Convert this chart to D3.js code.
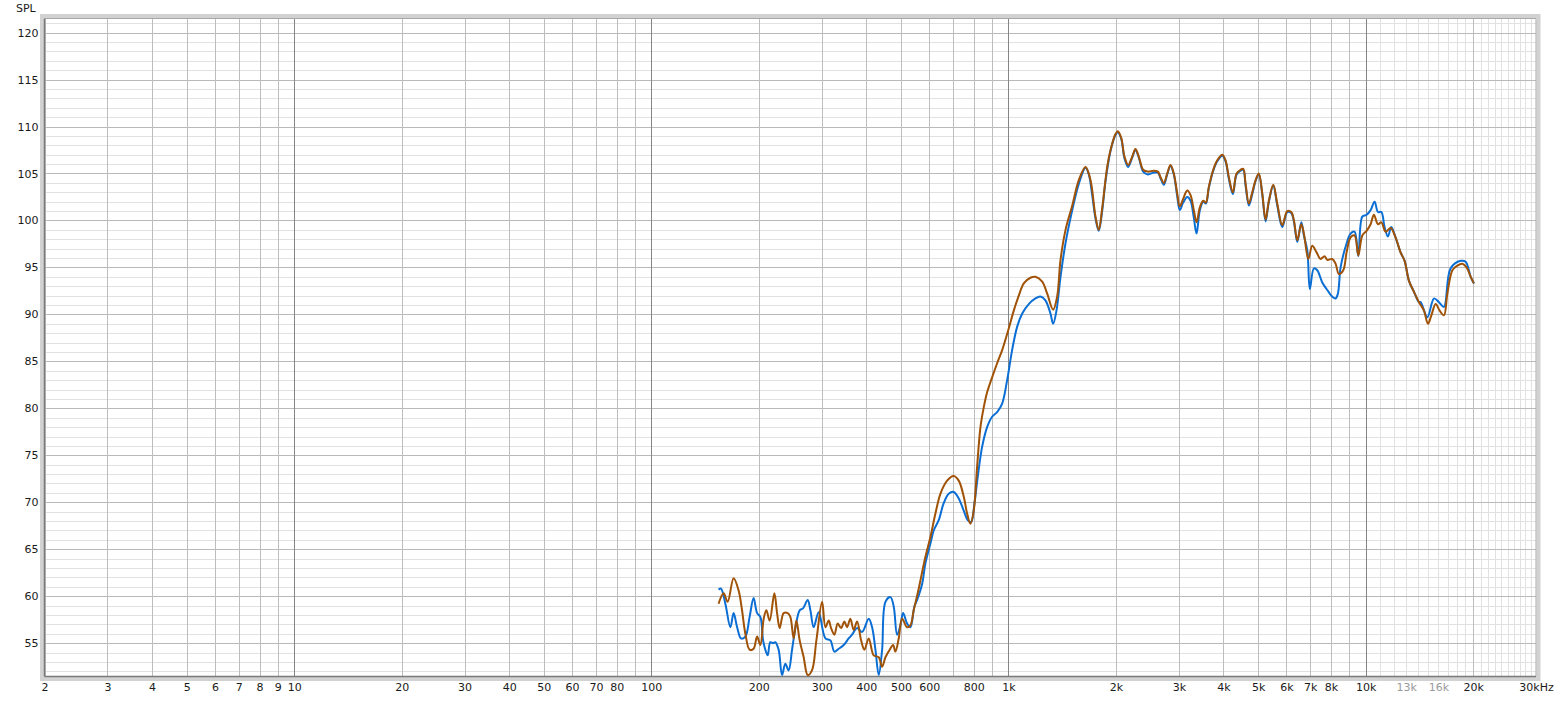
<!DOCTYPE html>
<html>
<head>
<meta charset="utf-8">
<script src="https://cdn.jsdelivr.net/npm/d3@7"></script>
<style>
  html, body { margin: 0; padding: 0; background: #ffffff; }
  svg { display: block; }
  text { font-family: "DejaVu Sans", Verdana, sans-serif; font-size: 11px; fill: #1a1a1a; }
</style>
</head>
<body>
<svg id="chart" width="1558" height="701"></svg>
<script>
// ---------------- data ----------------
const blueFreq = [154.3,156.7,161.2,166.5,170.0,173.9,178.4,183.4,188.5,193.4,197.8,202,205.6,208.6,211.8,215.4,219.2,222.5,227.3,232.3,237.3,242.4,247.8,253.2,260.3,266,274.1,278.9,284.9,294.2,307.3,317.3,325.6,334.7,345.7,357,364.9,376.9,389.3,406.2,415.2,424.2,433.3,442.9,452.5,467.3,477.3,487.8,498.4,507,520.3,531.5,545.4,555,573.2,585.5,604.7,617.8,637.9,658.8,680.4,702.8,725.8,749.6,769.1,786.2,803.2,820.4,843.9,871.6,900.1,929.7,960.3,991.7,1024,1058,1093,1140,1190,1229,1269,1311,1334,1363,1399,1445,1509,1574,1644,1679,1716,1753,1790,1830,1870,1931,1994,2024,2069,2113,2164,2221,2268,2317,2384,2456,2553,2620,2666,2723,2783,2843,2904,2968,3018,3085,3167,3235,3304,3363,3435,3511,3571,3641,3745,3843,3969,4054,4142,4250,4353,4467,4544,4613,4712,4816,4920,5024,5136,5247,5360,5515,5658,5844,6036,6193,6299,6438,6606,6718,6867,6982,7165,7323,7563,7811,8015,8241,8364,8511,8790,9078,9314,9541,9790,10065,10328,10597,10830,11070,11300,11550,11800,12130,12530,12860,13220,13660,14110,14260,14890,15540,16050,16570,17300,18460,19060,19690,20110];
const blueSPL = [60.7,60.8,59.2,56.7,58.2,56.7,55.5,55.7,57.8,59.8,58.2,57.8,55.3,54.3,53.7,55.1,55.0,55.1,54.3,51.6,52.8,52.1,54.3,56.6,58.5,58.7,59.6,58.5,56.7,58.3,55.5,55.3,54.1,54.4,54.8,55.5,55.9,56.6,56.2,57.6,56.7,54.3,51.6,54.3,59.4,59.9,58.9,55.9,56.9,58.2,57.1,56.7,58.9,59.6,61.3,63.5,65.6,67.0,68.1,69.9,70.9,71.1,70.4,69.1,68.1,67.9,69.9,72.7,75.9,78.0,79.1,79.6,80.5,83.0,86.2,88.7,90.1,91.1,91.7,91.9,91.5,90.1,89.0,90.4,94.0,97.6,101.1,103.9,105.6,104.9,102.7,100.2,98.9,101.0,104.2,107.4,109.1,109.4,108.7,106.6,105.7,106.7,107.5,106.7,105.2,104.9,105.1,105.1,104.5,103.8,104.9,105.8,104.9,102.6,101.1,101.9,102.5,102.1,100.3,98.6,101.1,102.0,101.8,103.5,105.3,106.3,106.9,106.3,104.4,102.8,104.9,105.3,105.4,103.7,101.6,102.8,104.2,104.9,102.8,99.9,102.0,103.7,101.6,99.3,100.9,100.8,99.9,97.7,99.8,98.4,96.8,92.7,94.9,94.7,93.4,92.6,92.0,91.7,92.2,95.0,97.2,98.6,98.8,96.2,100.4,100.6,101.1,102.0,100.9,100.9,99.3,98.3,99.3,98.2,96.6,95.7,93.6,92.4,91.3,91.3,89.7,91.7,91.3,90.8,94.9,95.7,95.6,94.0,93.3];

const brownFreq = [154.3,159.4,163.6,170.0,175.6,179.5,183.4,188.5,193.4,197.8,202,206.4,210,214.5,221.1,225,228.8,234.8,240.9,245.1,250.4,254.8,260.3,267.1,274.1,281.8,289.9,300.8,307.3,313.9,318.7,325.6,332.6,340,347.2,353.4,360.9,368.7,376.9,386.8,395.1,406.2,419.5,433.3,442.9,452.5,465.1,475.4,482.5,492.9,503.8,520.3,531.5,542.9,560.7,585.5,604.7,624.5,644.9,673.5,702.8,725.8,749.6,766.1,782.7,799.5,817.2,834.9,852.8,871.6,900.1,929.7,960.3,1002,1035,1069,1104,1152,1190,1243,1284,1334,1369,1399,1445,1509,1574,1644,1697,1753,1790,1830,1890,1931,1994,2024,2069,2113,2164,2221,2268,2317,2384,2456,2553,2620,2666,2723,2783,2843,2904,2968,3018,3085,3167,3235,3304,3363,3435,3511,3571,3641,3745,3843,3969,4054,4142,4250,4353,4467,4544,4613,4712,4816,4920,5024,5136,5247,5360,5515,5658,5844,6036,6193,6299,6438,6606,6718,6911,7091,7290,7480,7677,7811,8067,8241,8418,8660,8847,9078,9314,9541,9790,10065,10328,10550,10830,11070,11380,11750,12130,12530,12860,13220,13660,14110,14570,14950,15280,15710,16120,16570,16940,17500,18070,18660,19180,19690,20110];
const brownSPL = [59.2,60.3,59.4,61.9,60.6,58.5,56.0,54.3,54.4,55.7,54.8,57.6,58.5,57.4,60.3,58.2,56.6,58.2,58.2,57.8,55.5,57.4,55.3,53.5,51.6,52.1,55.3,59.4,56.7,57.4,56.6,55.9,57.1,56.6,57.3,56.7,57.6,56.4,57.3,55.3,54.3,55.5,53.7,53.5,52.5,53.5,54.3,54.8,54.1,55.5,57.6,56.7,56.9,58.5,60.8,64.2,66.3,68.8,70.9,72.3,72.8,72.3,70.6,68.8,67.7,69.1,73.8,78.0,80.1,81.7,83.3,84.8,86.2,88.5,90.4,92.0,93.3,93.9,94.0,93.5,92.2,90.5,91.9,95.8,99.0,101.6,104.3,105.7,104.3,100.4,99.0,101.3,105.7,107.5,109.2,109.5,108.8,106.8,105.9,106.8,107.6,106.8,105.4,105.2,105.3,105.2,104.6,104.0,105.0,105.9,105.0,102.9,101.5,102.3,103.2,102.7,101.1,99.8,101.4,102.1,101.9,103.6,105.4,106.4,107.0,106.4,104.6,103.0,105.0,105.4,105.5,103.9,101.8,103.0,104.3,105.0,102.9,100.1,102.1,103.8,101.8,99.5,101.0,100.9,100.0,97.9,99.6,98.6,95.9,97.3,96.6,95.9,96.2,95.8,95.9,95.4,94.3,94.7,96.6,98.2,98.4,96.3,98.4,98.9,99.6,100.6,99.6,99.8,98.8,99.2,98.2,96.6,95.7,93.6,92.4,91.3,90.4,89.0,89.9,91.1,90.4,89.9,92.2,94.7,95.2,95.4,95.0,94.0,93.3];

const yTickValues = [55,60,65,70,75,80,85,90,95,100,105,110,115,120];
const xTickValues = [2,3,4,5,6,7,8,9,10,20,30,40,50,60,70,80,100,200,300,400,500,600,800,1000,2000,3000,4000,5000,6000,7000,8000,10000,13000,16000,20000,30000];
const xTickLabels = ["2","3","4","5","6","7","8","9","10","20","30","40","50","60","70","80","100","200","300","400","500","600","800","1k","2k","3k","4k","5k","6k","7k","8k","10k","13k","16k","20k","30kHz"];
const greyLabels = ["13k","16k"];
const yLabel = "SPL";

// ---------------- layout ----------------
const L = 44.5, R = 1536, T = 18.5, B = 676.5;
const svg = d3.select("#chart");
const x = d3.scaleLog().domain([2, 30000]).range([L, R]);
const y = d3.scaleLinear().domain([51.45, 121.5]).range([B, T]);

// outer bevel / shadow
svg.append("rect").attr("x", L - 2.5).attr("y", T - 2.5).attr("width", R - L + 5).attr("height", B - T + 5)
  .attr("fill", "none").attr("stroke", "#d2d2d2").attr("stroke-width", 4);
svg.append("rect").attr("x", L).attr("y", T).attr("width", R - L).attr("height", B - T).attr("fill", "#ffffff");

// grid values
const minorV = [], midV = [], majorV = [], fineV = [];
for (let dec = 1; dec <= 10000; dec *= 10) {
  for (let n = 1; n <= 9; n++) {
    const f = n * dec;
    if (f < 2 || f > 30000) continue;
    if (dec === 10000) {
      if (n === 1) majorV.push(f); else if (n === 2) midV.push(f); else if (n !== 3) {}
    } else if (n === 1) majorV.push(f);
    else minorV.push(f);
  }
}
for (let f = 11000; f < 30000; f += 1000) { if (f !== 20000) fineV.push(f); }
midV.push(20000);

const minorH = [], majorH = [];
for (let v = 52; v <= 121; v++) { if (v % 5 === 0) majorH.push(v); else minorH.push(v); }

const grid = svg.append("g");
function vlines(vals, color) {
  grid.selectAll(null).data(vals).enter().append("line")
    .attr("x1", d => Math.round(x(d)) + 0.5).attr("x2", d => Math.round(x(d)) + 0.5)
    .attr("y1", T).attr("y2", B).attr("stroke", color).attr("stroke-width", 1);
}
function hlines(vals, color) {
  grid.selectAll(null).data(vals).enter().append("line")
    .attr("x1", L).attr("x2", R)
    .attr("y1", d => Math.round(y(d)) + 0.5).attr("y2", d => Math.round(y(d)) + 0.5)
    .attr("stroke", color).attr("stroke-width", 1);
}
hlines(minorH, "#e1e1e1");
vlines(fineV, "#e1e1e1");
hlines(majorH, "#b9b9b9");
vlines(minorV, "#bdbdbd");
vlines(midV, "#bdbdbd");
vlines(majorV, "#858585");

// frame edges
svg.append("line").attr("x1", L).attr("x2", R).attr("y1", T).attr("y2", T).attr("stroke", "#a8a8a8");
svg.append("line").attr("x1", R).attr("x2", R).attr("y1", T).attr("y2", B).attr("stroke", "#a8a8a8");
svg.append("line").attr("x1", L).attr("x2", L).attr("y1", T).attr("y2", B).attr("stroke", "#7a7a7a").attr("stroke-width", 1.5);
svg.append("line").attr("x1", L).attr("x2", R).attr("y1", B).attr("y2", B).attr("stroke", "#7a7a7a").attr("stroke-width", 1.5);

// clip
svg.append("clipPath").attr("id", "plotclip").append("rect")
  .attr("x", L).attr("y", T).attr("width", R - L).attr("height", B - T);

// curves
const line = d3.line().x(d => x(d.f)).y(d => y(d.v)).curve(d3.curveCatmullRom.alpha(0.5));
const blue = blueFreq.map((f, i) => ({ f, v: blueSPL[i] }));
const brown = brownFreq.map((f, i) => ({ f, v: brownSPL[i] }));
const curves = svg.append("g").attr("clip-path", "url(#plotclip)");
curves.append("path").datum(blue).attr("d", line).attr("fill", "none")
  .attr("stroke", "#0a6ed4").attr("stroke-width", 2).attr("stroke-linejoin", "round");
curves.append("path").datum(brown).attr("d", line).attr("fill", "none")
  .attr("stroke", "#a05206").attr("stroke-width", 2).attr("stroke-linejoin", "round");

// axes (labels)
const xAxis = d3.axisBottom(x).tickValues(xTickValues)
  .tickFormat((d, i) => xTickLabels[i]).tickSize(0).tickPadding(7);
const gx = svg.append("g").attr("transform", `translate(0,${B})`).call(xAxis);
gx.select(".domain").remove();
gx.selectAll("text").attr("font-family", null).attr("font-size", null)
  .style("fill", (d, i) => greyLabels.includes(xTickLabels[i]) ? "#9a9a9a" : "#1a1a1a");

const yAxis = d3.axisLeft(y).tickValues(yTickValues).tickSize(0).tickPadding(6);
const gy = svg.append("g").attr("transform", `translate(${L},0)`).call(yAxis);
gy.select(".domain").remove();
gy.selectAll("text").attr("font-family", null).attr("font-size", null).style("fill", "#1a1a1a");

svg.append("text").attr("x", 16).attr("y", 12).text(yLabel);
</script>
</body>
</html>
